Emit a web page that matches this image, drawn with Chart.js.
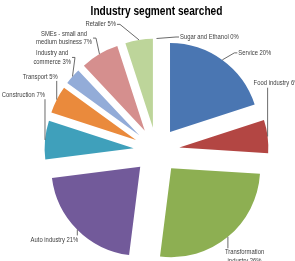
<!DOCTYPE html>
<html>
<head>
<meta charset="utf-8">
<script src="https://cdn.jsdelivr.net/npm/chart.js@4.4.1/dist/chart.umd.min.js"></script>
<style>
  html, body { margin: 0; padding: 0; background: #fff; }
</style>
</head>
<body>
<canvas id="industryPie" width="295" height="261"></canvas>
<script>
const chartTitle = 'Industry segment searched';
const categories = ['Service', 'Food industry', 'Transformation\nindustry', 'Auto industry', 'Construction',
  'Transport', 'Industry and\ncommerce', 'SMEs - small and\nmedium business', 'Retailer', 'Sugar and Ethanol'];
const shares = [20, 6, 26, 21, 7, 5, 3, 7, 5, 0];
const colors = ['#4A76B2', '#B34643', '#8DAF52', '#725A9A', '#3FA0BB',
  '#EA8A3C', '#93ACD8', '#D58F8E', '#BDD59A', '#B3A2C7'];

// label placement, relative to the middle of each slice's outer edge: [dx, dy, align]
const labelNudge = [
  [16, -7, 'left'], [-14, -53, 'left'], [-3, 20, 'left'], [1, 10, 'right'], [0, -45, 'right'],
  [1, -23, 'right'], [-1.5, -19, 'right'], [-7.5, -16, 'right'], [-23, -15.5, 'right'], [23.5, -1.5, 'left']
];

const pull = 23;      // explode distance
const squeeze = 0.84; // narrow the text a bit, the original font is condensed

const explode = {
  id: 'explode',
  afterDatasetUpdate(chart, args) {
    args.meta.data.forEach(arc => {
      const mid = (arc.startAngle + arc.endAngle) / 2;
      arc.x += Math.cos(mid) * pull;
      arc.y += Math.sin(mid) * pull;
    });
  }
};

const titleDraw = {
  id: 'titleDraw',
  afterDraw(chart) {
    const ctx = chart.ctx;
    ctx.save();
    ctx.font = 'bold 13px "Liberation Sans", Arial, sans-serif';
    ctx.fillStyle = '#000';
    ctx.textAlign = 'center';
    ctx.textBaseline = 'middle';
    const w = ctx.measureText(chartTitle).width;
    ctx.fillText(chartTitle, (chart.chartArea.left + chart.chartArea.right) / 2, 11, w * 0.78);
    ctx.restore();
  }
};

const sliceLabels = {
  id: 'sliceLabels',
  afterDatasetsDraw(chart) {
    const ctx = chart.ctx;
    const arcs = chart.getDatasetMeta(0).data;
    ctx.save();
    ctx.font = '7px "Liberation Sans", Arial, sans-serif';
    ctx.fillStyle = '#404040';
    ctx.strokeStyle = '#5a5a5a';
    ctx.lineWidth = 0.9;
    ctx.textBaseline = 'middle';
    ctx.textAlign = 'left';
    arcs.forEach((arc, i) => {
      const mid = (arc.startAngle + arc.endAngle) / 2;
      const ax = arc.x + Math.cos(mid) * arc.outerRadius;
      const ay = arc.y + Math.sin(mid) * arc.outerRadius;

      const lines = categories[i].split('\n');
      lines[lines.length - 1] += ' ' + shares[i] + '%';
      const lineH = 8.5;
      const widths = lines.map(l => ctx.measureText(l).width * squeeze);
      const w = Math.max(...widths);
      const h = lines.length * lineH;
      const [dx, dy, align] = labelNudge[i];
      const px = ax + dx, py = ay + dy;
      const x0 = align === 'right' ? px - w : px;
      const y0 = py - h / 2;

      // leader line
      let ex, ey, bx = null;
      if (ax < x0) { ex = x0 - 1; ey = py; bx = ex - 3; }
      else if (ax > x0 + w) { ex = x0 + w + 1; ey = py; bx = ex + 3; }
      else { ex = ax; ey = ay < y0 ? y0 : y0 + h; }
      ctx.beginPath();
      ctx.moveTo(ax, ay);
      if (bx !== null) ctx.lineTo(bx, ey);
      ctx.lineTo(ex, ey);
      ctx.stroke();

      lines.forEach((l, k) => {
        ctx.fillText(l, x0 + (w - widths[k]) / 2, y0 + lineH * (k + 0.5), widths[k]);
      });
    });
    ctx.restore();
  }
};

new Chart(document.getElementById('industryPie'), {
  type: 'pie',
  data: {
    labels: categories,
    datasets: [{
      data: shares,
      backgroundColor: colors,
      borderWidth: 0
    }]
  },
  options: {
    responsive: false,
    animation: false,
    events: [],
    radius: 89,
    layout: { padding: { left: 18, top: 40, right: 0, bottom: 0 } },
    plugins: {
      legend: { display: false },
      tooltip: { enabled: false }
    }
  },
  plugins: [explode, sliceLabels, titleDraw]
});
</script>
</body>
</html>
